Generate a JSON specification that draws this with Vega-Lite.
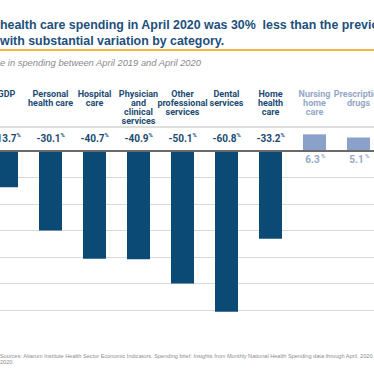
{
  "$schema": "https://vega.github.io/schema/vega-lite/v6.json",
  "width": 374,
  "height": 374,
  "autosize": "none",
  "padding": 0,
  "background": "white",
  "config": {"view": {"stroke": null}},
  "title": {
    "text": ["health care spending in April 2020 was 30%\u00a0 less than the previous year,", "with substantial variation by category."],
    "subtitle": "e in spending between April 2019 and April 2020",
    "anchor": "start",
    "frame": "group",
    "orient": "top",
    "offset": -67,
    "font": "Liberation Sans",
    "fontSize": 12.4,
    "fontWeight": "bold",
    "color": "#1d4f7c",
    "lineHeight": 16,
    "subtitleFont": "Liberation Sans",
    "subtitleFontStyle": "italic",
    "subtitleFontSize": 9.4,
    "subtitleColor": "#8a8a8a",
    "subtitlePadding": 11
  },
  "data": {
    "values": [
      {"cat": "GDP", "value": -13.7},
      {"cat": "Personal|health care", "value": -30.1},
      {"cat": "Hospital|care", "value": -40.7},
      {"cat": "Physician|and|clinical|services", "value": -40.9},
      {"cat": "Other|professional|services", "value": -50.1},
      {"cat": "Dental|services", "value": -60.8},
      {"cat": "Home|health|care", "value": -33.2},
      {"cat": "Nursing|home|care", "value": 6.3},
      {"cat": "Prescription|drugs", "value": 5.1}
    ]
  },
  "transform": [
    {"calculate": "replace(format(datum.value, '.1f'), '\u2212', '-')", "as": "lbl"}
  ],
  "encoding": {
    "x": {"field": "cat", "type": "nominal", "sort": null, "axis": null,
          "scale": {"type": "band", "range": [-15.5, 380.5], "paddingInner": 0.477, "paddingOuter": 0.2386}}
  },
  "layer": [
    {
      "mark": {"type": "rule", "color": "#f4b844", "strokeWidth": 1.2},
      "encoding": {
        "x": null,
        "y": {"datum": 38.19, "type": "quantitative",
              "scale": {"domain": [-84.31, 57.09], "nice": false, "zero": false},
              "axis": {"values": [-60, -50, -40, -30, -20, -10], "grid": true, "gridColor": "#d9d9d9", "gridWidth": 1.2, "labels": false, "ticks": false, "domain": false, "title": null}}
      }
    },
    {
      "mark": {"type": "rule", "color": "#dedede", "strokeWidth": 1.5},
      "encoding": {"x": null, "y": {"datum": 9.2, "type": "quantitative"}}
    },
    {
      "mark": {"type": "bar", "width": 23},
      "encoding": {
        "y": {"field": "value", "type": "quantitative"},
        "y2": {"datum": 0},
        "color": {"condition": {"test": "datum.value < 0", "value": "#0b4a75"}, "value": "#8aa1c9"}
      }
    },
    {
      "mark": {"type": "rule", "color": "#6b6b6b", "strokeWidth": 1},
      "encoding": {"x": null, "y": {"datum": 0, "type": "quantitative"}}
    },
    {
      "mark": {"type": "text", "font": "Roboto", "fontWeight": "bold", "fontSize": 9, "lineHeight": 9, "lineBreak": "|", "baseline": "alphabetic", "align": "center"},
      "encoding": {
        "y": {"datum": 20.5, "type": "quantitative"},
        "text": {"field": "cat"},
        "color": {"condition": {"test": "datum.value < 0", "value": "#1b4b73"}, "value": "#93a8c8"}
      }
    },
    {
      "transform": [{"filter": "datum.value < 0"}],
      "mark": {"type": "text", "font": "Roboto", "fontWeight": "bold", "fontSize": 10, "baseline": "alphabetic", "align": "center", "dx": -2, "color": "#1b4b73"},
      "encoding": {"y": {"datum": 3.5, "type": "quantitative"}, "text": {"field": "lbl"}}
    },
    {
      "transform": [{"filter": "datum.value < 0"}],
      "mark": {"type": "text", "font": "Roboto", "fontWeight": "bold", "fontSize": 5.8, "baseline": "alphabetic", "align": "left", "dx": 10, "color": "#1b4b73"},
      "encoding": {"y": {"datum": 5.3, "type": "quantitative"}, "text": {"value": "%"}}
    },
    {
      "transform": [{"filter": "datum.value >= 0"}],
      "mark": {"type": "text", "font": "Roboto", "fontWeight": "bold", "fontSize": 10, "baseline": "alphabetic", "align": "center", "dx": -2, "color": "#93a8c8"},
      "encoding": {"y": {"datum": -4.6, "type": "quantitative"}, "text": {"field": "lbl"}}
    },
    {
      "transform": [{"filter": "datum.value >= 0"}],
      "mark": {"type": "text", "font": "Roboto", "fontWeight": "bold", "fontSize": 5.8, "baseline": "alphabetic", "align": "left", "dx": 6.5, "color": "#93a8c8"},
      "encoding": {"y": {"datum": -2.8, "type": "quantitative"}, "text": {"value": "%"}}
    },
    {
      "data": {"values": [{"note": "Sources: Altarum Institute Health Sector Economic Indicators. Spending brief: Insights from Monthly National Health Spending data through April, 2020.|2020."}]},
      "transform": [],
      "mark": {"type": "text", "font": "Liberation Sans", "fontSize": 5.6, "lineHeight": 6.5, "lineBreak": "|", "baseline": "alphabetic", "align": "left", "color": "#8c8c8c"},
      "encoding": {"x": {"value": 0}, "y": {"datum": -78.26, "type": "quantitative"}, "text": {"field": "note"}}
    }
  ]
}
